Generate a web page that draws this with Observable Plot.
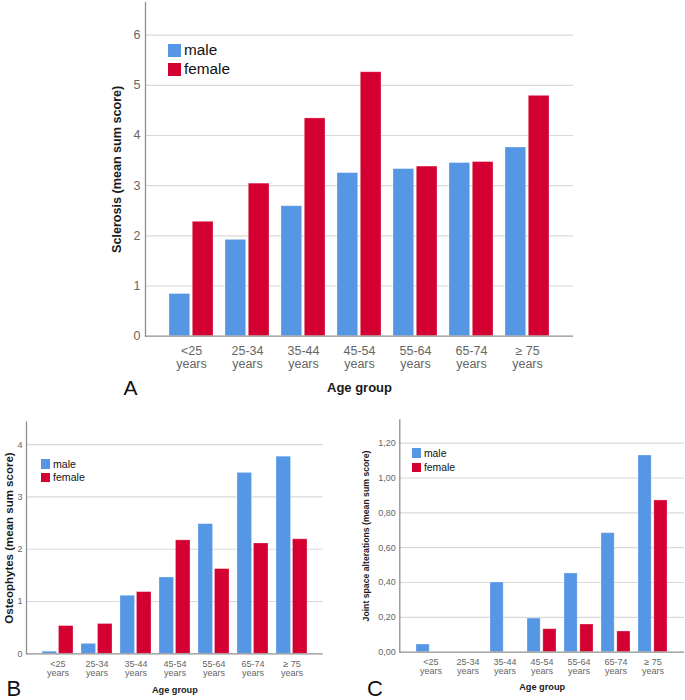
<!DOCTYPE html>
<html><head><meta charset="utf-8">
<script src="https://cdn.jsdelivr.net/npm/d3@7"></script>
<script src="https://cdn.jsdelivr.net/npm/@observablehq/plot@0.6"></script>
<style>
body{margin:0;background:#fff;font-family:"Liberation Sans",Arial,sans-serif;}
#wrap{position:relative;width:685px;height:700px;overflow:hidden;background:#fff;}
.panel{position:absolute;}
.leg{position:absolute;display:flex;align-items:center;color:#111;white-space:nowrap;}
.sw{display:inline-block;margin-right:3px;}
</style></head><body><div id="wrap"></div>
<script>
// ---- data ----
const ageGroups = ["<25", "25-34", "35-44", "45-54", "55-64", "65-74", "≥ 75"];
const sexes = ["male", "female"];
const sexColors = ["#5596e5", "#d50032"];

const sclerosisMale   = [0.84, 1.92, 2.59, 3.25, 3.33, 3.45, 3.76];
const sclerosisFemale = [2.28, 3.04, 4.34, 5.26, 3.38, 3.47, 4.79];
const osteoMale       = [0.04, 0.19, 1.11, 1.46, 2.48, 3.46, 3.77];
const osteoFemale     = [0.53, 0.57, 1.18, 2.17, 1.62, 2.11, 2.19];
const jointMale       = [0.044, 0, 0.40, 0.193, 0.452, 0.683, 1.129];
const jointFemale     = [0, 0, 0, 0.132, 0.159, 0.119, 0.871];

const ticksA = [0, 1, 2, 3, 4, 5, 6];
const ticksB = [0, 1, 2, 3, 4];
const ticksC = [0, 0.2, 0.4, 0.6, 0.8, 1.0, 1.2];

const wrap = document.getElementById("wrap");
const PI = 0.21, PO = 0.395;

function panel(cfg) {
  const rows = [];
  ageGroups.forEach((g, i) => {
    rows.push({age: g, sex: sexes[0], value: cfg.male[i]});
    rows.push({age: g, sex: sexes[1], value: cfg.female[i]});
  });
  const plotW = cfg.width - cfg.mL - cfg.mR;
  const step = plotW / (ageGroups.length - PI + 2 * PO);
  const half = step * (1 - PI) / 2;
  const chart = Plot.plot({
    width: cfg.width, height: cfg.height,
    marginLeft: cfg.mL, marginRight: cfg.mR, marginTop: cfg.mT, marginBottom: cfg.mB,
    style: {fontFamily: "Liberation Sans, Arial, sans-serif", color: "#666", background: "transparent", overflow: "visible"},
    x: {domain: ageGroups, paddingInner: PI, paddingOuter: PO, align: 0.5},
    y: {domain: [0, cfg.yMax]},
    marks: [
      Plot.ruleY(cfg.ticks.filter(t => t > 0), {stroke: "#d9d9d9", strokeWidth: 1.2}),
      Plot.barY(rows.filter(d => d.sex === "male" && d.value > 0), {x: "age", y: "value", fill: sexColors[0], insetRight: half + 1, stroke: "#fff", strokeOpacity: 0.35, strokeWidth: 0.8}),
      Plot.barY(rows.filter(d => d.sex === "female" && d.value > 0), {x: "age", y: "value", fill: sexColors[1], insetLeft: half + 1, stroke: "#fff", strokeOpacity: 0.35, strokeWidth: 0.8}),
      Plot.ruleY([0], {stroke: "#8f8f8f", strokeWidth: 1.3}),
      Plot.frame({anchor: "left", stroke: "#8f8f8f", strokeWidth: 1.3}),
      Plot.axisY({ticks: cfg.ticks, tickSize: 0, tickPadding: cfg.yPad, tickFormat: cfg.yFormat, fontSize: cfg.tickFs, label: null}),
      Plot.axisX({tickSize: 0, tickPadding: cfg.xPad, tickFormat: d => d + "\nyears", fontSize: cfg.tickFs, lineHeight: 1.05, label: null}),
      Plot.text([cfg.yLabel], {text: d => d, frameAnchor: "left", textAnchor: "middle", lineAnchor: "middle", rotate: -90, dx: cfg.yLabDx, fontWeight: "bold", fontSize: cfg.yLabFs, fill: "#1a1a1a"}),
      Plot.text(["Age group"], {text: d => d, frameAnchor: "bottom", textAnchor: "middle", lineAnchor: "middle", dy: cfg.xLabDy, fontWeight: "bold", fontSize: cfg.xLabFs, fill: "#1a1a1a"}),
      Plot.text([cfg.letter], {text: d => d, frameAnchor: "bottom-left", textAnchor: "middle", lineAnchor: "middle", dx: cfg.letDx, dy: cfg.letDy, fontSize: cfg.letFs, fill: "#111"})
    ]
  });
  chart.classList.add("panel");
  chart.style.left = cfg.left + "px";
  chart.style.top = cfg.top + "px";
  wrap.appendChild(chart);
  // legend (inside plot area)
  sexes.forEach((s, k) => {
    const div = document.createElement("div");
    div.className = "leg";
    div.style.left = cfg.legX + "px";
    div.style.top = (cfg.legY + k * cfg.legStep) + "px";
    div.style.fontSize = cfg.legFs + "px";
    div.style.height = cfg.sw + "px";
    const sw = document.createElement("span");
    sw.className = "sw";
    sw.style.width = cfg.sw + "px";
    sw.style.height = cfg.sw + "px";
    sw.style.background = sexColors[k];
    div.appendChild(sw);
    div.appendChild(document.createTextNode(s));
    wrap.appendChild(div);
  });
}

const commaFmt = d => d3.format(".2f")(d).replace(".", ",");

panel({male: sclerosisMale, female: sclerosisFemale, yMax: 6.65, ticks: ticksA, yFormat: d => d,
  yLabel: "Sclerosis (mean sum score)", letter: "A",
  left: 0, top: 0, width: 685, height: 400, mL: 145, mR: 112, mT: 2, mB: 64.3,
  tickFs: 12.5, yPad: 5, xPad: 9, yLabDx: -29, yLabFs: 12.6, xLabDy: 51.5, xLabFs: 13,
  letDx: -15, letDy: 52, letFs: 21,
  legX: 168, legY: 43.5, legStep: 19, legFs: 15.3, sw: 13});

panel({male: osteoMale, female: osteoFemale, yMax: 4.43, ticks: ticksB, yFormat: d => d,
  yLabel: "Osteophytes (mean sum score)", letter: "B",
  left: 0, top: 400, width: 340, height: 300, mL: 26, mR: 17.3, mT: 21.7, mB: 46.7,
  tickFs: 9, yPad: 4, xPad: 6, yLabDx: -17.5, yLabFs: 11.5, xLabDy: 36.7, xLabFs: 9.2,
  letDx: -12.7, letDy: 35.2, letFs: 22,
  legX: 40.5, legY: 459, legStep: 13.7, legFs: 10.6, sw: 9.5});

panel({male: jointMale, female: jointFemale, yMax: 1.334, ticks: ticksC, yFormat: commaFmt,
  yLabel: "Joint space alterations (mean sum score)", letter: "C",
  left: 340, top: 400, width: 345, height: 300, mL: 59.3, mR: 1, mT: 19.3, mB: 48.3,
  tickFs: 9, yPad: 4, xPad: 6, yLabDx: -33.3, yLabFs: 8.7, xLabDy: 35.3, xLabFs: 9.2,
  letDx: -24.8, letDy: 36.8, letFs: 22,
  legX: 411.5, legY: 448.3, legStep: 14.4, legFs: 10.4, sw: 9.4});
</script>
</body></html>
